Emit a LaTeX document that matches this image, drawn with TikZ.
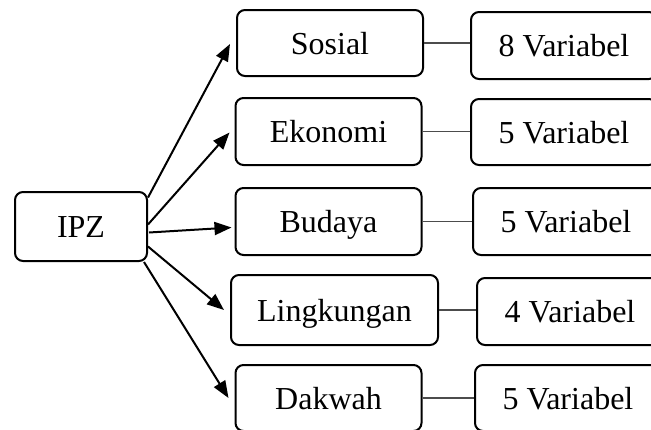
\documentclass[tikz,border=0pt]{standalone}
\usepackage{fontspec}
\setmainfont{Liberation Serif}
\usetikzlibrary{arrows.meta,positioning}

\begin{document}
\begin{tikzpicture}[x=1pt,y=-1pt,
	kotak/.style={draw,rounded corners=8pt,line width=2pt,minimum height=67pt,
		minimum width=186pt,inner sep=0pt,text height=28pt,text depth=6pt,
		font=\fontsize{32}{36}\selectfont},
	panah/.style={line width=2pt,-{Triangle[length=17pt,width=13pt]}},
	garis/.style={line width=1.4pt,draw=black!70}]
	\useasboundingbox (0,0) rectangle (651,429);
	\clip (0,0) rectangle (651,429);
	% pusat
	\node[kotak,minimum width=132pt,minimum height=69pt] (ipz) at (81,226.5) {IPZ};
	% aspek
	\node[kotak,minimum height=66pt] (sosial) at (330,43) {Sosial};
	\node[kotak] (ekonomi) at (328.5,131.5) {Ekonomi};
	\node[kotak] (budaya) at (328.5,221.5) {Budaya};
	\node[kotak,minimum width=207pt,minimum height=70pt] (lingkungan) at (334.5,310) {Lingkungan};
	\node[kotak,minimum height=66pt] (dakwah) at (328.5,398) {Dakwah};
	% jumlah variabel
	\node[kotak] (vsosial) at (564,45.5) {8 Variabel};
	\node[kotak,minimum height=66pt] (vekonomi) at (564,132) {5 Variabel};
	\node[kotak] (vbudaya) at (566,221.5) {5 Variabel};
	\node[kotak] (vlingkungan) at (570,311.5) {4 Variabel};
	\node[kotak,minimum height=66pt] (vdakwah) at (568,398) {5 Variabel};
	% panah
	\draw[panah] ([yshift=29pt]ipz.east) -- ([xshift=-6pt,yshift=-1pt]sosial.west);
	\draw[panah] ([yshift=2pt]ipz.east) -- ([xshift=-5pt,yshift=-1pt]ekonomi.west);
	\draw[panah] ([xshift=1pt,yshift=-6pt]ipz.east) -- ([xshift=-3pt,yshift=-6pt]budaya.west);
	\draw[panah] ([yshift=-20pt]ipz.east) -- ([xshift=-6pt]lingkungan.west);
	\draw[panah] ([xshift=-4pt]ipz.south east) -- ([xshift=-6pt]dakwah.west);
	% garis
	\draw[garis] (sosial.east) -- (sosial.east -| vsosial.west);
	\draw[garis] (ekonomi.east) -- (ekonomi.east -| vekonomi.west);
	\draw[garis] (budaya.east) -- (budaya.east -| vbudaya.west);
	\draw[garis] (lingkungan.east) -- (lingkungan.east -| vlingkungan.west);
	\draw[garis] (dakwah.east) -- (dakwah.east -| vdakwah.west);
\end{tikzpicture}
\end{document}
